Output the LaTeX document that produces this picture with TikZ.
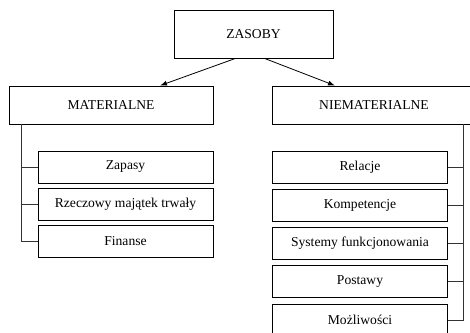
\documentclass[tikz,border=0pt]{standalone}
\usepackage{fontspec}
\setmainfont{Liberation Serif}
\usepackage{tikz}
\usetikzlibrary{arrows.meta}

\tikzset{
  box/.style={draw, thick, rectangle, inner sep=0pt, font=\fontsize{13.6}{16}\selectfont},
  bigbox/.style={box, minimum width=204pt, minimum height=38pt},
  subbox/.style={box, minimum width=175pt, minimum height=32pt},
  bus/.style={draw, thick, black!80},
}

\begin{document}
\begin{tikzpicture}[x=1pt,y=-1pt]
\useasboundingbox (0,0) rectangle (470,332);
%
\node[box, minimum width=159pt, minimum height=48pt] (zasoby) at (253.5,34) {ZASOBY};
\node[bigbox] (mat) at (111,105) {MATERIALNE};
\node[bigbox] (niemat) at (374,105) {NIEMATERIALNE};
%
\draw[thick, -{Latex[length=7pt,width=5pt]}] ([xshift=-18pt]zasoby.south) -- ([xshift=49pt]mat.north);
\draw[thick, -{Latex[length=7pt,width=5pt]}] ([xshift=11pt]zasoby.south) -- ([xshift=-39pt]niemat.north);
%
\node[subbox] (zapasy) at (125.5,167) {Zapasy};
\node[subbox] (majatek) at (125.5,204.5) {Rzeczowy majątek trwały};
\node[subbox] (finanse) at (125.5,241.5) {Finanse};
%
\node[subbox] (relacje) at (360,167) {Relacje};
\node[subbox] (kompetencje) at (360,205) {Kompetencje};
\node[subbox] (systemy) at (360,243) {Systemy funkcjonowania};
\node[subbox] (postawy) at (360,281.5) {Postawy};
\node[subbox] (mozliwosci) at (360,320) {Możliwości};
%
\coordinate (lbus) at ([xshift=13pt]mat.south west);
\coordinate (rbus) at ([xshift=-13pt]niemat.south east);
%
\draw[bus] (lbus) |- (finanse.west);
\draw[bus] (zapasy.west) -- (zapasy.west -| lbus);
\draw[bus] (majatek.west) -- (majatek.west -| lbus);
%
\draw[bus] (rbus) |- (mozliwosci.east);
\draw[bus] (relacje.east) -- (relacje.east -| rbus);
\draw[bus] (kompetencje.east) -- (kompetencje.east -| rbus);
\draw[bus] (systemy.east) -- (systemy.east -| rbus);
\draw[bus] (postawy.east) -- (postawy.east -| rbus);
\end{tikzpicture}
\end{document}
